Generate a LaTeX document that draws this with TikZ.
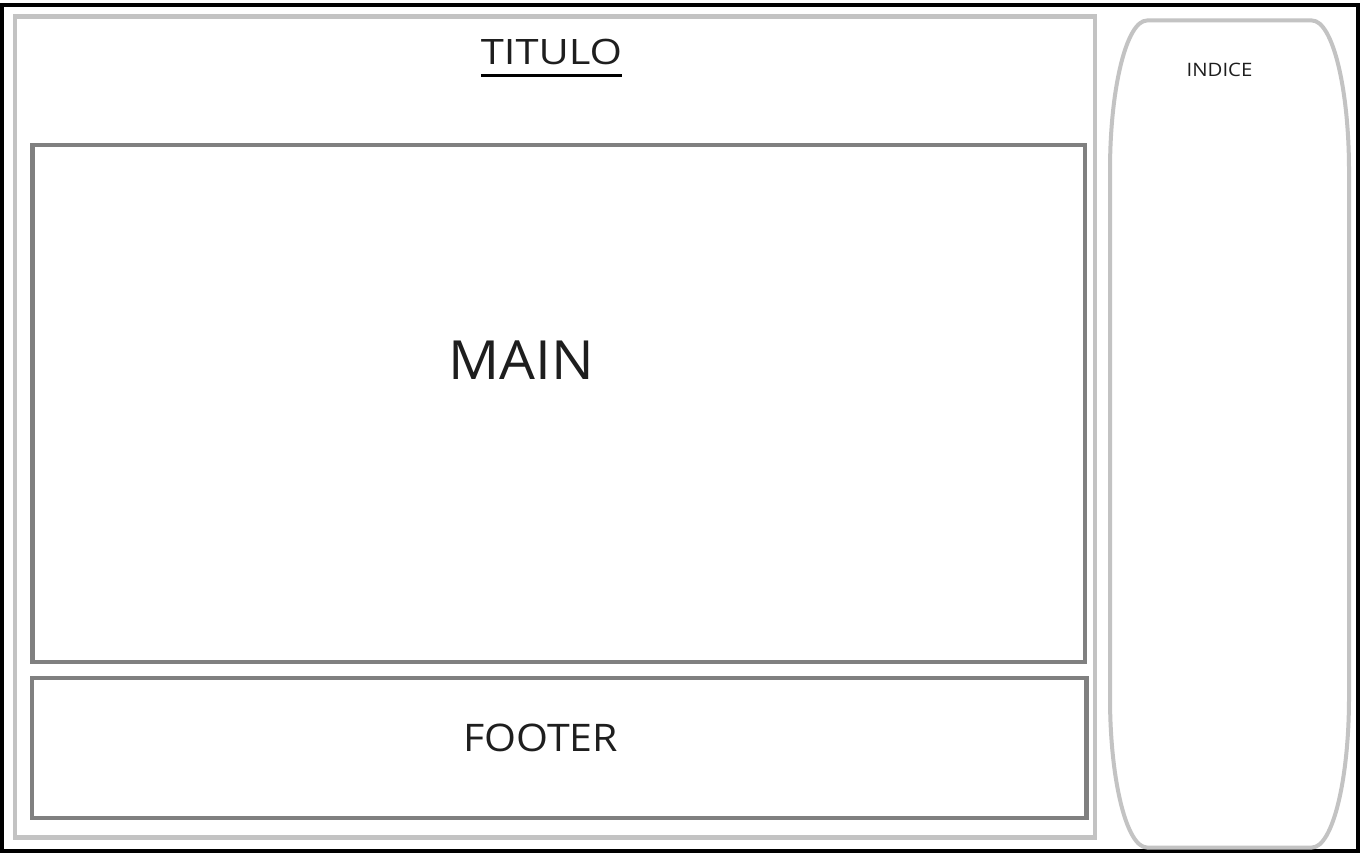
\documentclass[tikz,border=0pt]{standalone}
\usepackage{fontspec}
\setmainfont{Open Sans}
\definecolor{lightframe}{HTML}{C3C3C3}
\definecolor{midframe}{HTML}{808080}
\definecolor{txt}{HTML}{1E1E1E}
\begin{document}
\begin{tikzpicture}[x=1pt,y=-1pt,
  box/.style={draw, rectangle, inner sep=0pt, outer sep=0pt, fill=none},
  lbl/.style={inner sep=0pt, outer sep=0pt, text=txt, anchor=center}]
\useasboundingbox (0,0) rectangle (1363,858);
\fill[white] (0,0) rectangle (1363,858);
% outer frame
\node[box, line width=4pt, draw=black, minimum width=1356pt, minimum height=846pt] (outer) at (680,428) {};
% page frame
\node[box, line width=4.5pt, draw=lightframe, minimum width=1080pt, minimum height=821pt] (page) at (555,427) {};
% main box
\node[box, line width=4.5pt, draw=midframe, minimum width=1052.5pt, minimum height=517pt] (mainbox) at (558.75,403.5) {};
% footer box
\node[box, line width=4.5pt, draw=midframe, minimum width=1054.5pt, minimum height=140pt] (footbox) at (559.25,748) {};
% index shape
\draw[lightframe, line width=4pt] (1147,20.5) -- (1312,20.5)
  .. controls (1332.4,20.5) and (1349,87.7) .. (1349,170.5)
  -- (1349,697.5)
  .. controls (1349,780.3) and (1332.4,847.5) .. (1312,847.5)
  -- (1147,847.5)
  .. controls (1126.6,847.5) and (1110,780.3) .. (1110,697.5)
  -- (1110,170.5)
  .. controls (1110,87.7) and (1126.6,20.5) .. (1147,20.5) -- cycle;
% texts
\node[lbl, font=\fontsize{35}{40}\selectfont] (titulo) at (551.5,52) {\scalebox{1.19}[1]{TITULO}};
\draw[black, line width=3pt] ([yshift=-10.5pt]titulo.base west) -- ([yshift=-10.5pt]titulo.base east);
\node[lbl, font=\fontsize{54}{60}\selectfont] (maintxt) at (521,360) {\scalebox{1.05}[1]{MAIN}};
\node[lbl, font=\fontsize{38}{44}\selectfont] (foottxt) at (540.5,738) {\scalebox{1.08}[1]{FOOTER}};
\node[lbl, font=\fontsize{18.5}{22}\selectfont] (indtxt) at (1219.5,69.5) {\scalebox{1.1}[1]{INDICE}};
\end{tikzpicture}
\end{document}
